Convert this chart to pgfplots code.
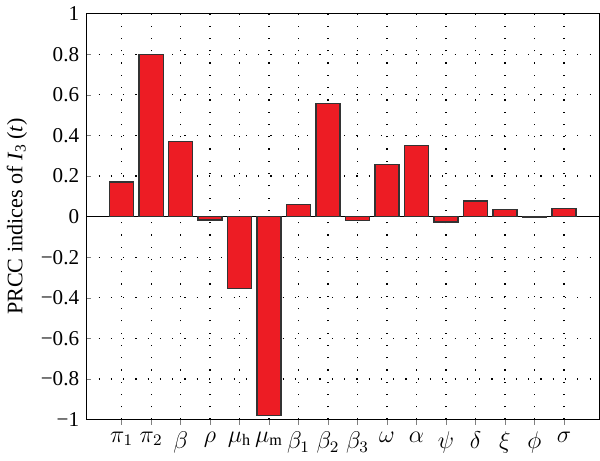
\documentclass[border=0pt]{standalone}
\usepackage{fontspec}
\setmainfont{Liberation Serif}
\usepackage{pgfplots}
\pgfplotsset{compat=1.18}
\definecolor{barred}{RGB}{237,28,36}
\begin{document}
\fontsize{10}{12}\selectfont
\begin{tikzpicture}
\begin{axis}[
  scale only axis, width=254bp, height=201bp,
  xmin=-0.2, xmax=17.2, ymin=-1, ymax=1,
  xtick={1,...,16},
  xticklabels={$\pi_1$,$\pi_2$,$\beta$,$\rho$,$\mu_{\mathrm{h}}$,$\mu_{\mathrm{m}}$,$\beta_1$,$\beta_2$,$\beta_3$,$\omega$,$\alpha$,$\psi$,$\delta$,$\xi$,$\phi$,$\sigma$},
  ytick={-1,-0.8,-0.6,-0.4,-0.2,0,0.2,0.4,0.6,0.8,1},
  yticklabels={−1,−0.8,−0.6,−0.4,−0.2,0,0.2,0.4,0.6,0.8,1},
  x tick label style={font=\fontsize{12}{14}\selectfont},
  y tick label style={font=\fontsize{10.5}{12}\selectfont},
  ylabel={PRCC indices of \textit{I}\textsubscript{3}\,(\textit{t})},
  ylabel style={font=\fontsize{11}{13}\selectfont},
  tick align=inside, tick pos=left, major tick length=2.5bp,
  axis line style={line width=0.7pt},
  grid=major,
  major grid style={black, line width=0.6pt, dash pattern=on 0.6pt off 5.5pt},
  extra y ticks={0}, extra y tick labels={},
  extra y tick style={grid=major, major grid style={solid, black, line width=0.6pt}, major tick length=0pt},
  ybar, bar width=0.82,
]
\addplot[fill=barred, draw=black!80, line width=0.7pt] coordinates {
(1,0.17) (2,0.80) (3,0.37) (4,-0.017) (5,-0.353) (6,-0.98) (7,0.06) (8,0.557)
(9,-0.02) (10,0.257) (11,0.35) (12,-0.027) (13,0.078) (14,0.035) (15,-0.003) (16,0.04)
};
\end{axis}
\end{tikzpicture}
\end{document}
